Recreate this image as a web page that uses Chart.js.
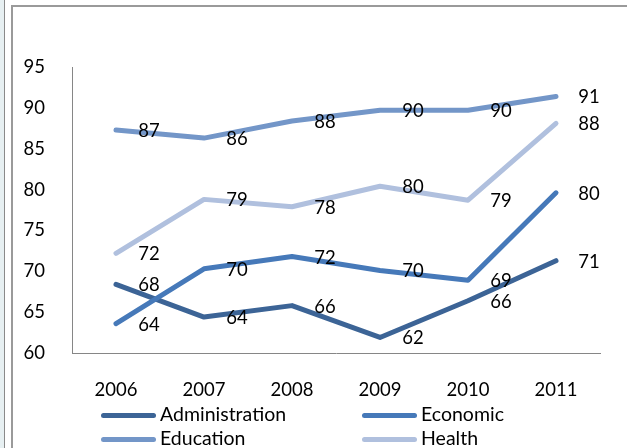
<!DOCTYPE html>
<html>
<head>
<meta charset="utf-8">
<script src="https://cdn.jsdelivr.net/npm/chart.js@4"></script>
<style>
    body { margin: 0; background: #fff; }
    #marco { position: relative; width: 627px; height: 448px; overflow: hidden; }
    #franja { position: absolute; left: 0; top: 0; width: 4px; height: 448px; background: #e7f0f2; border-right: 1px solid #8a8a8a; }
    #caja { position: absolute; left: 11px; top: 5px; width: 640px; height: 460px; border-left: 2px solid #9a9a9a; border-top: 2px solid #9a9a9a; }
    #grafico { position: absolute; left: 0; top: 0; }
    .item { position: absolute; font: 19.5px Lato, sans-serif; color: #000; line-height: 20px; white-space: nowrap; }
    .item span.linea { display: inline-block; width: 55px; height: 5px; border-radius: 3px; vertical-align: middle; margin-right: 4px; position: relative; top: -1px; }
</style>
</head>
<body>
<div id="marco">
    <div id="franja"></div>
    <div id="caja"></div>
    <canvas id="grafico" width="627" height="448"></canvas>
    <div id="leyenda"></div>
</div>
<script>
const anios = ['2006', '2007', '2008', '2009', '2010', '2011'];
const administracion = [68.4, 64.4, 65.8, 61.9, 66.4, 71.3];
const economico = [63.6, 70.3, 71.8, 70.1, 68.9, 79.6];
const educacion = [87.3, 86.3, 88.4, 89.7, 89.7, 91.4];
const salud = [72.2, 78.8, 77.9, 80.4, 78.7, 88.1];
const nombresSeries = ['Administration', 'Economic', 'Education', 'Health'];
const coloresSeries = ['#3c6496', '#4679b9', '#7396c8', '#b0c0de'];
const ticksY = { min: 60, max: 95, paso: 5 };

const fuente = { family: 'Lato', size: 18.5 };

// etiquetas de valor a la derecha de cada punto
const etiquetasDatos = {
    id: 'etiquetasDatos',
    afterDatasetsDraw(chart) {
        const ctx = chart.ctx;
        ctx.save();
        ctx.font = '18.5px Lato';
        ctx.fillStyle = '#000';
        ctx.textAlign = 'center';
        ctx.textBaseline = 'middle';
        chart.data.datasets.forEach((ds, i) => {
            chart.getDatasetMeta(i).data.forEach((punto, j) => {
                ctx.fillText(Math.round(ds.data[j]), punto.x + 33, punto.y + 1);
            });
        });
        ctx.restore();
    }
};

const series = [administracion, economico, educacion, salud];

const chartInstance = new Chart(document.getElementById('grafico').getContext('2d'), {
    type: 'line',
    data: {
        labels: anios,
        datasets: series.map((valores, i) => ({
            label: nombresSeries[i],
            data: valores,
            borderColor: coloresSeries[i],
            backgroundColor: coloresSeries[i],
            borderWidth: 5,
            borderCapStyle: 'round',
            borderJoinStyle: 'round',
            pointRadius: 0,
            tension: 0,
            order: series.length - i
        }))
    },
    options: {
        responsive: false,
        animation: false,
        devicePixelRatio: 1,
        layout: { padding: { left: 0, top: 67, right: 27, bottom: 0 } },
        plugins: {
            legend: { display: false },
            tooltip: { enabled: false }
        },
        scales: {
            x: {
                offset: true,
                grid: { display: false },
                border: { display: true, color: '#868686', width: 1 },
                ticks: { font: fuente, color: '#000', padding: 18, maxRotation: 0 },
                afterFit: (scale) => { scale.height = 95; }
            },
            y: {
                min: ticksY.min,
                max: ticksY.max,
                grid: { display: false },
                border: { display: true, color: '#868686', width: 1 },
                ticks: { stepSize: ticksY.paso, font: fuente, color: '#000', padding: 19 },
                afterFit: (scale) => { scale.width = 72; }
            }
        }
    },
    plugins: [etiquetasDatos]
});

// leyenda en dos columnas debajo del grafico
const posicionesLeyenda = [[101, 404], [362, 404], [101, 428], [362, 428]];
const leyenda = document.getElementById('leyenda');
chartInstance.data.datasets.forEach((ds, i) => {
    const item = document.createElement('div');
    item.className = 'item';
    item.style.left = posicionesLeyenda[i][0] + 'px';
    item.style.top = posicionesLeyenda[i][1] + 'px';
    item.innerHTML = `<span class="linea" style="background:${ds.borderColor}"></span>${ds.label}`;
    leyenda.appendChild(item);
});
</script>
</body>
</html>
